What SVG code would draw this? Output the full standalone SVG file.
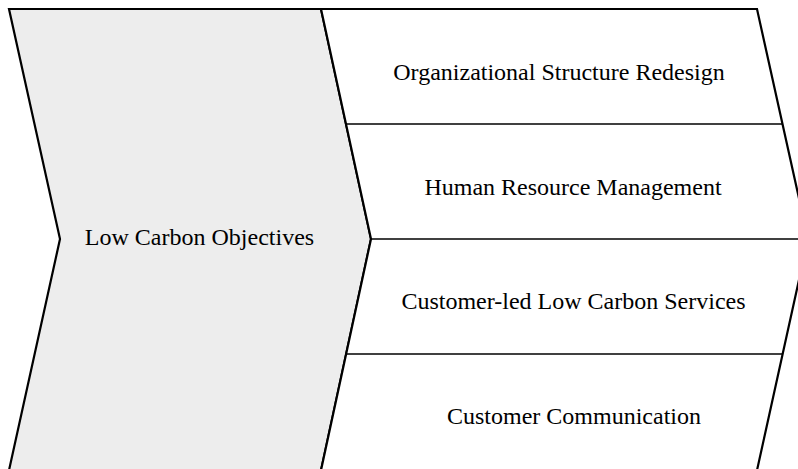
<svg xmlns="http://www.w3.org/2000/svg" width="798" height="469" viewBox="0 0 798 469">
  <style>
    .outline { stroke: #000; stroke-width: 2.2; stroke-linejoin: miter; }
    .lead { fill: #EDEDED; }
    .panel { fill: #FFFFFF; }
    .divider { stroke: #000; stroke-width: 1.3; fill: none; }
    .label { font-family: "Liberation Serif", "Times New Roman", serif; font-size: 24px; fill: #000; text-anchor: middle; }
  </style>
  <rect width="798" height="469" fill="#FFFFFF"/>

  <!-- lead chevron -->
  <g id="low-carbon-objectives">
    <path class="outline lead" d="M9,9 L321,9 L371,239 L321,470.3 L9,470.3 L60,239 Z"/>
    <text class="label" x="199.5" y="245">Low Carbon Objectives</text>
  </g>

  <!-- right-hand panel outline -->
  <g id="action-panel">
    <path class="outline panel" d="M321,9 L757,9 L808,239 L757,470.3 L321,470.3 L371,239 Z"/>
  </g>

  <!-- row separators -->
  <g id="connectors">
    <line class="divider" x1="346" y1="124" x2="782" y2="124"/>
    <line class="divider" x1="371" y1="239" x2="808" y2="239"/>
    <line class="divider" x1="346" y1="354" x2="782" y2="354"/>
  </g>

  <g id="organizational-structure-redesign">
    <text class="label" x="559" y="80">Organizational Structure Redesign</text>
  </g>
  <g id="human-resource-management">
    <text class="label" x="573" y="195">Human Resource Management</text>
  </g>
  <g id="customer-led-services">
    <text class="label" x="573.5" y="309">Customer-led Low Carbon Services</text>
  </g>
  <g id="customer-communication">
    <text class="label" x="574" y="424">Customer Communication</text>
  </g>
</svg>
